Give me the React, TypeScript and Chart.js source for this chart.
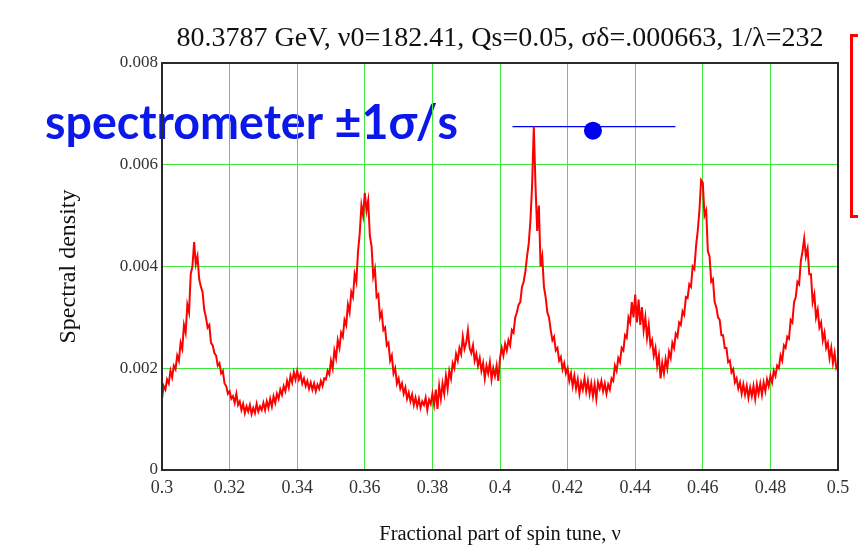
import React, { useEffect, useRef } from "react";
import { Chart, registerables } from "chart.js";

Chart.register(...registerables);

// ---------- text ----------
const titleText = "80.3787 GeV, \u03bd0=182.41, Qs=0.05, \u03c3\u03b4=.000663, 1/\u03bb=232";
const xAxisTitle = "Fractional part of spin tune, \u03bd";
const yAxisTitle = "Spectral density";
const annotationText = "spectrometer \u00b11\u03c3/s";

// ---------- ticks ----------
const xTickValues = [0.3, 0.32, 0.34, 0.36, 0.38, 0.4, 0.42, 0.44, 0.46, 0.48, 0.5];
const xTickLabels = ["0.3", "0.32", "0.34", "0.36", "0.38", "0.4", "0.42", "0.44", "0.46", "0.48", "0.5"];
const yTickValues = [0, 0.002, 0.004, 0.006, 0.008];
const yTickLabels = ["0", "0.002", "0.004", "0.006", "0.008"];

// ---------- spectral density (sampled every 0.0005 from 0.3, values in units of 1e-5) ----------
const nuStart = 0.3;
const nuStep = 0.0005;
const densityUnit = 1e-5;
const density = [
  140, 165, 158, 178, 170, 195, 182, 205, 198, 225, 215, 250, 238, 285, 270, 325, 310, 385, 400, 448,
  405, 420, 375, 360, 350, 315, 300, 280, 285, 250, 245, 230, 225, 205, 210, 190, 195, 170, 165, 150,
  155, 140, 145, 132, 150, 128, 135, 118, 130, 112, 125, 115, 128, 110, 122, 112, 130, 115, 125, 118,
  132, 118, 135, 122, 140, 125, 145, 132, 150, 140, 158, 148, 165, 155, 175, 162, 185, 172, 192, 178,
  195, 178, 188, 170, 180, 165, 175, 160, 172, 158, 170, 155, 168, 160, 175, 165, 180, 178, 195, 188,
  215, 200, 235, 220, 255, 240, 270, 262, 295, 285, 325, 310, 350, 340, 385, 370, 430, 465, 520, 500,
  545, 510, 530, 460, 440, 380, 395, 340, 345, 300, 310, 275, 280, 245, 250, 215, 225, 190, 200, 170,
  180, 160, 170, 150, 162, 140, 152, 135, 148, 128, 142, 125, 140, 122, 135, 128, 142, 118, 138, 130,
  150, 128, 158, 120, 165, 140, 170, 150, 185, 160, 195, 180, 210, 200, 228, 215, 240, 228, 262, 238,
  250, 275, 240, 230, 245, 215, 228, 205, 220, 195, 210, 180, 205, 190, 212, 178, 200, 185, 205, 175,
  220, 240, 225, 248, 235, 255, 245, 275, 270, 300, 310, 325, 330, 360, 370, 390, 420, 445, 490, 560,
  675, 560, 470, 520, 400, 420, 360, 340, 310, 300, 275, 255, 262, 235, 240, 215, 222, 198, 210, 190,
  200, 175, 190, 165, 185, 160, 178, 150, 172, 158, 180, 155, 175, 150, 170, 145, 168, 140, 172, 160,
  175, 155, 170, 150, 168, 158, 180, 175, 205, 195, 220, 212, 240, 235, 265, 260, 300, 290, 330, 300,
  345, 290, 335, 285, 320, 275, 300, 260, 285, 245, 255, 225, 240, 205, 225, 180, 210, 190, 218, 200,
  232, 220, 250, 240, 268, 262, 290, 285, 312, 305, 340, 338, 365, 360, 400, 395, 440, 470, 510, 570,
  565, 500, 510, 430, 420, 370, 375, 330, 320, 300, 295, 265, 265, 240, 240, 212, 215, 192, 198, 172,
  180, 160, 172, 150, 168, 148, 165, 142, 162, 145, 165, 140, 168, 150, 170, 148, 172, 155, 178, 165,
  185, 172, 195, 185, 205, 200, 225, 215, 245, 240, 262, 258, 295, 290, 330, 340, 370, 365, 410, 430,
  455, 420, 435, 385, 385, 330, 345, 300, 315, 280, 290, 255, 270, 240, 250, 220, 240, 210, 230, 200,
  205,
];

// ---------- spectrometer marker ----------
const spreadNu = [0.4037, 0.4519];
const spreadLevel = 0.00675;
const centerNu = 0.4275;
const centerLevel = 0.00667;

const serif = "'Liberation Serif', 'Times New Roman', serif";
const gridGreen = "rgb(64, 232, 64)";
const frameColor = "#2a2a2a";

const decorPlugin = {
  id: "decor",
  beforeDraw(chart: any) {
    const { ctx } = chart;
    ctx.save();
    ctx.fillStyle = "#0b18ea";
    ctx.font = "bold 47px Lato, 'Open Sans', sans-serif";
    ctx.textBaseline = "alphabetic";
    ctx.textAlign = "left";
    ctx.fillText(annotationText, 45, 139, 413);
    ctx.restore();
  },
  afterDraw(chart: any) {
    const { ctx, chartArea: a } = chart;
    ctx.save();
    ctx.strokeStyle = frameColor;
    ctx.lineWidth = 2;
    ctx.strokeRect(a.left, a.top, a.right - a.left, a.bottom - a.top);
    ctx.strokeStyle = "#ff0000";
    ctx.lineWidth = 3;
    ctx.strokeRect(851.5, 35.5, 40, 181);
    ctx.restore();
  },
};

export default function App() {
  const canvasRef = useRef<HTMLCanvasElement | null>(null);

  useEffect(() => {
    if (!canvasRef.current) return;
    const lineData = density.map((d, i) => ({ x: nuStart + i * nuStep, y: d * densityUnit }));
    const chart = new Chart(canvasRef.current, {
      type: "line",
      data: {
        datasets: [
          {
            label: "density",
            data: lineData,
            borderColor: "#ff0000",
            borderWidth: 2,
            pointRadius: 0,
            tension: 0,
          },
          {
            label: "spread",
            data: spreadNu.map((n) => ({ x: n, y: spreadLevel })),
            borderColor: "#0000f0",
            borderWidth: 1.2,
            pointRadius: 0,
          },
          {
            type: "scatter",
            label: "center",
            data: [{ x: centerNu, y: centerLevel }],
            pointRadius: 9,
            backgroundColor: "#0000f0",
            borderWidth: 0,
          },
        ] as any,
      },
      options: {
        animation: false,
        responsive: true,
        maintainAspectRatio: false,
        layout: { padding: { left: 0, right: 20, top: 0, bottom: 0 } },
        plugins: {
          legend: { display: false },
          tooltip: { enabled: false },
          title: {
            display: true,
            text: titleText,
            fullSize: false,
            color: "#111",
            font: { family: serif, size: 28, weight: "normal", lineHeight: 1 },
            padding: { top: 25, bottom: 10 },
          },
        },
        scales: {
          x: {
            type: "linear",
            min: 0.3,
            max: 0.5,
            afterFit: (s: any) => {
              s.height = 77;
            },
            afterBuildTicks: (s: any) => {
              s.ticks = xTickValues.map((v) => ({ value: v }));
            },
            ticks: {
              callback: (_v: any, i: number) => xTickLabels[i],
              font: { family: serif, size: 18 },
              color: "#333",
              padding: 7,
              maxRotation: 0,
              autoSkip: false,
            },
            grid: { color: gridGreen, drawTicks: false, lineWidth: 1 },
            border: { display: false },
            title: {
              display: true,
              text: xAxisTitle,
              color: "#111",
              font: { family: serif, size: 20.5 },
              padding: { top: 0, bottom: 0 },
            },
          },
          y: {
            type: "linear",
            min: 0,
            max: 0.008,
            afterFit: (s: any) => {
              s.width = 162;
            },
            afterBuildTicks: (s: any) => {
              s.ticks = yTickValues.map((v) => ({ value: v }));
            },
            ticks: {
              callback: (_v: any, i: number) => yTickLabels[i],
              font: { family: serif, size: 17 },
              color: "#333",
              padding: 4,
            },
            grid: { color: gridGreen, drawTicks: false, lineWidth: 1 },
            border: { display: false },
            title: {
              display: true,
              text: yAxisTitle,
              color: "#111",
              font: { family: serif, size: 24 },
              padding: { top: 54, bottom: 0 },
            },
          },
        },
      } as any,
      plugins: [decorPlugin],
    });
    return () => chart.destroy();
  }, []);

  return (
    <div style={{ position: "absolute", left: 0, top: 0, width: 858, height: 547, background: "#fff" }}>
      <canvas ref={canvasRef} />
    </div>
  );
}
